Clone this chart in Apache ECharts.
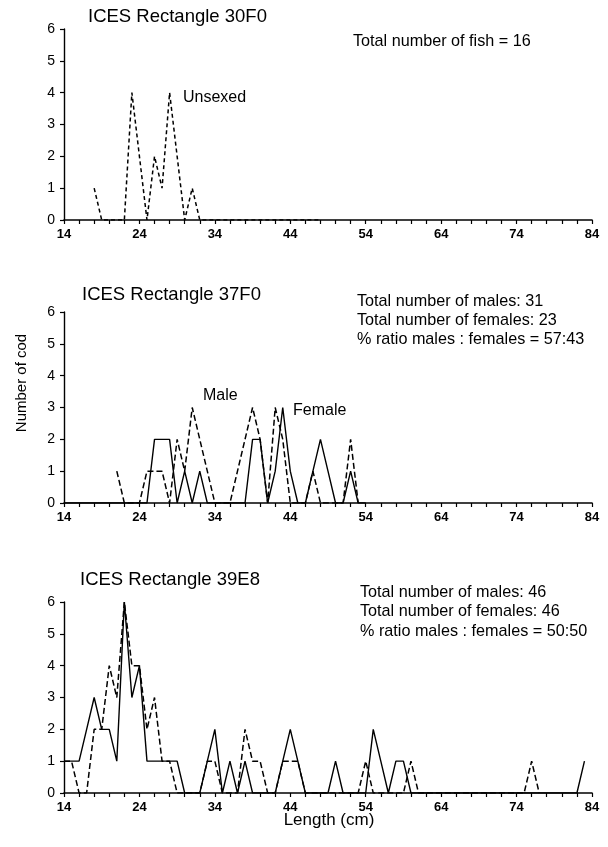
<!DOCTYPE html>
<html>
<head>
<meta charset="utf-8">
<script src="https://cdn.jsdelivr.net/npm/echarts@6/dist/echarts.min.js"></script>
<style>
html,body{margin:0;padding:0;background:#fff;}
#chart{width:608px;height:847px;}
</style>
</head>
<body>
<div id="chart"></div>
<script>
// ---------- data (length in cm, number of cod) ----------
// Panel 1: ICES Rectangle 30F0, unsexed
const p1Len      = [18,19,20,21,22,23,24,25,26,27,28,29,30,31,32,48];
const p1Unsexed  = [1, 0, 0, 0, 0, 4, 2, 0, 2, 1, 4, 2, 0, 1, 0, 0];

// Panel 2: ICES Rectangle 37F0
const p2FemLen   = [14,25,26,27,28,29,30,31,32,33,38,39,40,41,42,43,44,45,46,47,48,49,50,51,52,53,54];
const p2Female   = [0, 0, 2, 2, 2, 0, 1, 0, 1, 0, 0, 2, 2, 0, 1, 3, 1, 0, 0, 1, 2, 1, 0, 0, 1, 0, 0];
const p2MaleLen  = [21,22,24,25,26,27,28,29,30,31,32,33,34,36,37,38,39,40,41,42,43,44,46,47,48,51,52,53];
const p2Male     = [1, 0, 0, 1, 1, 1, 0, 2, 1, 3, 2, 1, 0, 0, 1, 2, 3, 2, 0, 3, 2, 0, 0, 1, 0, 0, 2, 0];

// Panel 3: ICES Rectangle 39E8
const p3FemLen   = [14,15,16,17,18,19,20,21,22,23,24,25,26,27,28,29,30,32,33,34,35,36,37,38,39,42,43,44,45,46,49,50,51,54,55,56,57,58,59,60,82,83];
const p3Female   = [1, 1, 1, 2, 3, 2, 2, 1, 6, 3, 4, 1, 1, 1, 1, 1, 0, 0, 1, 2, 0, 1, 0, 1, 0, 0, 1, 2, 1, 0, 0, 1, 0, 0, 2, 1, 0, 1, 1, 0, 0, 1];
const p3MaleLen  = [14,15,16,17,18,19,20,21,22,23,24,25,26,27,28,29,32,33,34,35,37,38,39,40,41,42,43,44,45,46,53,54,55,59,60,61,75,76,77];
const p3Male     = [1, 1, 0, 0, 2, 2, 4, 3, 6, 4, 4, 2, 3, 1, 1, 0, 0, 1, 1, 0, 0, 2, 1, 1, 0, 0, 1, 1, 1, 0, 0, 1, 0, 0, 1, 0, 0, 1, 0];

// axis ticks
const xMin = 14, xMax = 84, xStep = 2, xLabelStep = 10;
const yMin = 0, yMax = 6, yStep = 1;

// texts
const panelTitles = ['ICES Rectangle 30F0', 'ICES Rectangle 37F0', 'ICES Rectangle 39E8'];
const panel1Info = ['Total number of fish = 16'];
const panel2Info = ['Total number of males: 31', 'Total number of females: 23', '% ratio males : females = 57:43'];
const panel3Info = ['Total number of males: 46', 'Total number of females: 46', '% ratio males : females = 50:50'];

// ---------- layout ----------
const FONT = '"Liberation Sans", Arial, Helvetica, sans-serif';
const gridTops = [29, 312, 602];
const gridH = 191;
const gridLeft = 64, gridRight = 16;

function pairs(xs, ys){ return xs.map((x,i)=>[x, ys[i]]); }

const grids = gridTops.map(t => ({left:gridLeft, right:gridRight, top:t, height:gridH}));
const xAxes = gridTops.map((t,i) => ({
  type:'value', gridIndex:i, min:xMin, max:xMax, interval:xStep,
  axisLine:{show:true, onZero:false, lineStyle:{color:'#000', width:1.6}},
  axisTick:{show:true, length:4, inside:false, lineStyle:{color:'#000', width:1.2}},
  splitLine:{show:false},
  axisLabel:{
    color:'#000', fontSize:13, fontFamily:'"Liberation Sans Narrow", "Liberation Sans", Arial, sans-serif', fontWeight:'bold', margin:8,
    showMinLabel:true, showMaxLabel:true,
    formatter: v => ((v - xMin) % xLabelStep === 0 ? String(v) : '')
  }
}));
const yAxes = gridTops.map((t,i) => ({
  type:'value', gridIndex:i, min:yMin, max:yMax, interval:yStep,
  axisLine:{show:true, lineStyle:{color:'#000', width:1.4}},
  axisTick:{show:true, length:4, lineStyle:{color:'#000', width:1.2}},
  splitLine:{show:false},
  axisLabel:{color:'#000', fontSize:14, fontFamily:FONT, margin:9}
}));

function solid(i, data, name){
  return {type:'line', name, xAxisIndex:i, yAxisIndex:i, data, symbol:'none', smooth:false,
    lineStyle:{color:'#000', width:1.4, type:'solid'}, silent:true, animation:false};
}
function dashed(i, data, name, dash){
  return {type:'line', name, xAxisIndex:i, yAxisIndex:i, data, symbol:'none', smooth:false,
    lineStyle:{color:'#000', width:1.5, type:dash || [6,3]}, silent:true, animation:false};
}

const series = [
  dashed(0, pairs(p1Len, p1Unsexed), 'Unsexed', [4,3]),
  solid(1, pairs(p2FemLen, p2Female), 'Female'),
  dashed(1, pairs(p2MaleLen, p2Male), 'Male'),
  solid(2, pairs(p3FemLen, p3Female), 'Female'),
  dashed(2, pairs(p3MaleLen, p3Male), 'Male')
];

function txt(text, x, y, size, opts){
  return Object.assign({type:'text', x, y, silent:true, style:{
    text, fill:'#000', font: (opts && opts.weight ? opts.weight+' ' : '') + size + 'px ' + FONT,
    textAlign:(opts && opts.align) || 'left', textVerticalAlign:'middle'
  }}, (opts && opts.extra) || {});
}

const graphics = [
  txt(panelTitles[0], 88, 17, 18.5),
  txt(panelTitles[1], 82, 295, 18.5),
  txt(panelTitles[2], 80, 580, 18.5),
  txt(panel1Info[0], 353, 42, 16.2),
  txt(panel2Info[0], 357, 302, 16.2),
  txt(panel2Info[1], 357, 321, 16.2),
  txt(panel2Info[2], 357, 340, 16.2),
  txt(panel3Info[0], 360, 593, 16.2),
  txt(panel3Info[1], 360, 612, 16.2),
  txt(panel3Info[2], 360, 632, 16.2),
  txt('Unsexed', 183, 98, 16),
  txt('Male', 203, 396, 16),
  txt('Female', 293, 411, 16),
  txt('Length (cm)', 329, 820, 17, {align:'center'}),
  txt('Number of cod', 22, 383, 15, {align:'center', extra:{rotation:Math.PI/2}})
];

const chart = echarts.init(document.getElementById('chart'), null, {renderer:'canvas'});
chart.setOption({
  backgroundColor:'#fff',
  animation:false,
  grid: grids,
  xAxis: xAxes,
  yAxis: yAxes,
  series,
  graphic: graphics
});
</script>
</body>
</html>
